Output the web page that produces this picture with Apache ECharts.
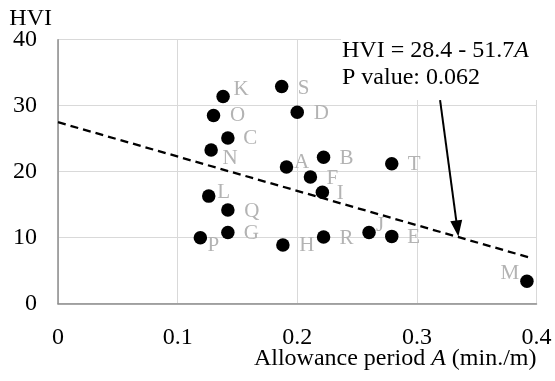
<!DOCTYPE html>
<html><head><meta charset="utf-8">
<script src="https://cdn.jsdelivr.net/npm/echarts@6/dist/echarts.min.js"></script>
<style>html,body{margin:0;padding:0;background:#fff}#c{width:555px;height:381px}</style>
</head><body><div id="c"></div>
<script>
// ---- data ----
const pointNames = ['K','S','O','D','C','N','A','B','F','I','L','Q','G','P','H','R','T','J','E','M'];
const allowance  = [0.138,0.187,0.130,0.200,0.142,0.128,0.191,0.222,0.211,0.221,0.126,0.142,0.142,0.119,0.188,0.222,0.279,0.260,0.279,0.392];
const hviValues  = [31.4,32.9,28.5,29.0,25.1,23.3,20.7,22.2,19.2,16.9,16.3,14.2,10.8,10.0,8.9,10.1,21.2,10.8,10.2,3.4];
const trendA     = [0, 0.396];
const trendHVI   = [27.5, 6.9];
const arrowFrom  = [0.3194, 30.85];
const arrowTo    = [0.3338, 11.4];
const xTicks = [0, 0.1, 0.2, 0.3, 0.4];
const yTicks = [0, 10, 20, 30, 40];
const eqText = 'HVI = 28.4 - 51.7';
const pText = 'P value: 0.062';

// ---- style: label offsets (pixels from dot centre) ----
const labelOffset = {
  K:[18,-7], S:[22,1.5], O:[24,0], D:[24,1.5], C:[22.5,0.5], N:[19,9], A:[15,-5], B:[23,1.5],
  F:[22,1.5], I:[18,1], L:[15,-3.5], Q:[24,2], G:[23.5,1], P:[13,8], H:[24,1], R:[23,1.5],
  T:[22.5,0.5], J:[11,-7], E:[22,1.5], M:[-17,-7.5]
};

const FONT = '"Liberation Serif","Times New Roman",serif';
const FS = 24;
const chart = echarts.init(document.getElementById('c'));

const scatterData = pointNames.map((n, i) => ({
  name: n,
  value: [allowance[i], hviValues[i]],
  label: { offset: labelOffset[n] }
}));

chart.setOption({
  animation: false,
  backgroundColor: '#fff',
  grid: { left: 58, right: 18.5, top: 39.7, bottom: 77.3, containLabel: false, outerBoundsMode: 'none' },
  xAxis: {
    type: 'value', min: xTicks[0], max: xTicks[xTicks.length-1], interval: xTicks[1]-xTicks[0],
    axisLine: { show: true, onZero: false, lineStyle: { color: '#8c8c8c', width: 1.5 } },
    axisTick: { show: false },
    splitLine: { show: true, lineStyle: { color: '#d9d9d9', width: 1 } },
    axisLabel: { color: '#000', fontFamily: FONT, fontSize: FS, margin: 22 },
    name: 'Allowance period {i|A} (min./m)',
    nameLocation: 'end', nameGap: 0, nameMoveOverlap: false,
    nameTextStyle: {
      color: '#000', fontFamily: FONT, fontSize: FS, align: 'right', verticalAlign: 'top',
      padding: [43, 0, 0, 0],
      rich: { i: { fontStyle: 'italic', fontFamily: FONT, fontSize: FS, color: '#000' } }
    }
  },
  yAxis: {
    type: 'value', min: yTicks[0], max: yTicks[yTicks.length-1], interval: yTicks[1]-yTicks[0],
    axisLine: { show: true, lineStyle: { color: '#8c8c8c', width: 1.5 } },
    axisTick: { show: false },
    splitLine: { show: true, lineStyle: { color: '#d9d9d9', width: 1 } },
    axisLabel: { color: '#000', fontFamily: FONT, fontSize: FS, margin: 21 },
    name: 'HVI', nameLocation: 'end', nameGap: 9, nameMoveOverlap: false,
    nameTextStyle: { color: '#000', fontFamily: FONT, fontSize: FS, align: 'right', padding: [0, 6, 0, 0] }
  },
  series: [
    {
      type: 'line', data: trendA.map((a, i) => [a, trendHVI[i]]),
      showSymbol: false, symbol: 'none', z: 3,
      lineStyle: { color: '#000', width: 2.3, type: [8, 5] },
      markLine: {
        silent: true, symbol: ['none', 'triangle'], symbolSize: [12, 16],
        label: { show: false },
        lineStyle: { color: '#000', width: 2, type: 'solid' },
        data: [[ { coord: arrowFrom }, { coord: arrowTo } ]]
      }
    },
    {
      type: 'scatter', data: scatterData, symbolSize: 13.5, z: 4,
      itemStyle: { color: '#000', opacity: 1 },
      label: {
        show: true, position: 'inside', formatter: '{b}',
        color: '#b3b3b3', fontFamily: FONT, fontSize: 21
      }
    }
  ],
  graphic: [
    { type: 'rect', left: 341, top: 30, z: 10, shape: { width: 214, height: 70 }, style: { fill: '#fff' } },
    { type: 'text', left: 342, top: 39, z: 11,
      style: { text: eqText + '{i|A}', font: FS + 'px ' + FONT, fill: '#000',
        rich: { i: { fontStyle: 'italic', fontFamily: FONT, fontSize: FS, fill: '#000' } } } },
    { type: 'text', left: 342, top: 66, z: 11,
      style: { text: pText, font: FS + 'px ' + FONT, fill: '#000' } }
  ]
});
</script></body></html>
